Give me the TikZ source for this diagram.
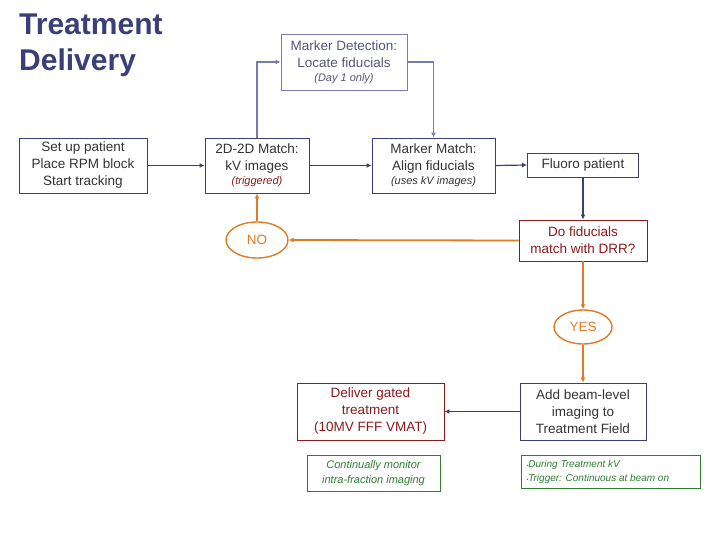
\documentclass[tikz,border=0pt]{standalone}
\usepackage{fontspec}
\setmainfont{Liberation Sans}
\usetikzlibrary{shapes.geometric,arrows.meta}
\definecolor{navy}{HTML}{3A3F75}
\definecolor{lav}{HTML}{7A7AB0}
\definecolor{org}{HTML}{E07A25}
\definecolor{dred}{HTML}{8B1A1A}
\definecolor{grn}{HTML}{2E7D32}
\definecolor{txt}{HTML}{333333}
\begin{document}
\begin{tikzpicture}[x=1pt,y=-1pt,
  box/.style={draw=navy,line width=0.9pt,rectangle,align=center,font=\fontsize{13.5}{17}\selectfont,text=txt,inner sep=0pt},
  red/.style={box,draw=dred,text=dred},
  gbox/.style={draw=grn,line width=0.9pt,rectangle,inner sep=0pt,text=grn},
  ell/.style={draw=org,line width=1.4pt,ellipse,font=\fontsize{13.5}{14}\selectfont,text=org,inner sep=0pt},
  nar/.style={draw=navy,line width=1.2pt,-{Latex[length=5pt,width=5pt]}},
  lar/.style={draw=lav,line width=1.2pt,-{Latex[length=5pt,width=5pt]}},
  oar/.style={draw=org,line width=1.8pt,-{Latex[length=5pt,width=5pt]}}]
\useasboundingbox (0,0) rectangle (720,540);
\node[anchor=north west,align=left,font=\fontsize{30}{36}\selectfont\bfseries,text=navy,inner sep=0pt] (title) at (19,14) {Treatment\\Delivery};
\node[box,minimum width=128pt,minimum height=55pt] (setup) at (83,165.5) {Set up patient\\Place RPM block\\Start tracking};
\node[box,minimum width=104pt,minimum height=55pt] (m2d) at (257,165.5) {2D-2D Match:\\kV images\\[-3pt]{\fontsize{11}{12}\selectfont\itshape\color{dred}(triggered)}};
\node[box,draw=lav,text=lav!70!black,minimum width=126pt,minimum height=56pt] (md) at (344,62) {Marker Detection:\\Locate fiducials\\[-3pt]{\fontsize{11}{12}\selectfont\itshape(Day 1 only)}};
\node[box,minimum width=123pt,minimum height=55pt] (mm) at (433.5,165.5) {Marker Match:\\Align fiducials\\[-3pt]{\fontsize{11}{12}\selectfont\itshape(uses kV images)}};
\node[box,minimum width=111pt,minimum height=24pt] (fl) at (583,165) {Fluoro patient};
\node[red,minimum width=128pt,minimum height=41pt] (df) at (583,240.5) {Do fiducials\\match with DRR?};
\node[ell,minimum width=62pt,minimum height=36pt] (no) at (257,240) {NO};
\node[ell,minimum width=58pt,minimum height=34pt] (yes) at (583,327) {YES};
\node[box,minimum width=126pt,minimum height=57pt] (ab) at (583,411.5) {Add beam-level\\imaging to\\Treatment Field};
\node[red,minimum width=147pt,minimum height=57pt] (dg) at (370.5,411.5) {Deliver gated\\treatment\\(10MV FFF VMAT)};
\node[gbox,minimum width=133pt,minimum height=36pt,align=center,font=\fontsize{11}{15}\selectfont\itshape] (cm) at (373.5,473) {Continually monitor\\intra-fraction imaging};
\node[gbox,minimum width=179pt,minimum height=33pt] (dt) at (610.5,471.5) {};
\node[anchor=west,text=grn,align=left,font=\fontsize{10}{14}\selectfont\itshape] (dtt) at (523,471.5) {{\tiny\textbullet}During Treatment kV\\{\tiny\textbullet}Trigger: Continuous at beam on};
\draw[nar] (setup) -- (m2d);
\draw[nar] (m2d) -- (mm);
\draw[nar] (mm.east) -- (fl.west);
\draw[lar] (m2d.north) |- (md.west);
\draw[lar] (md.east) -| (mm.north);
\draw[nar] (fl.south) -- (df.north);
\draw[oar] (df.west) -- (no.east);
\draw[oar] (no.north) -- (m2d.south);
\draw[oar] (df.south) -- (yes.north);
\draw[oar] (yes.south) -- (ab.north);
\draw[nar] (ab.west) -- (dg.east);
\end{tikzpicture}
\end{document}
